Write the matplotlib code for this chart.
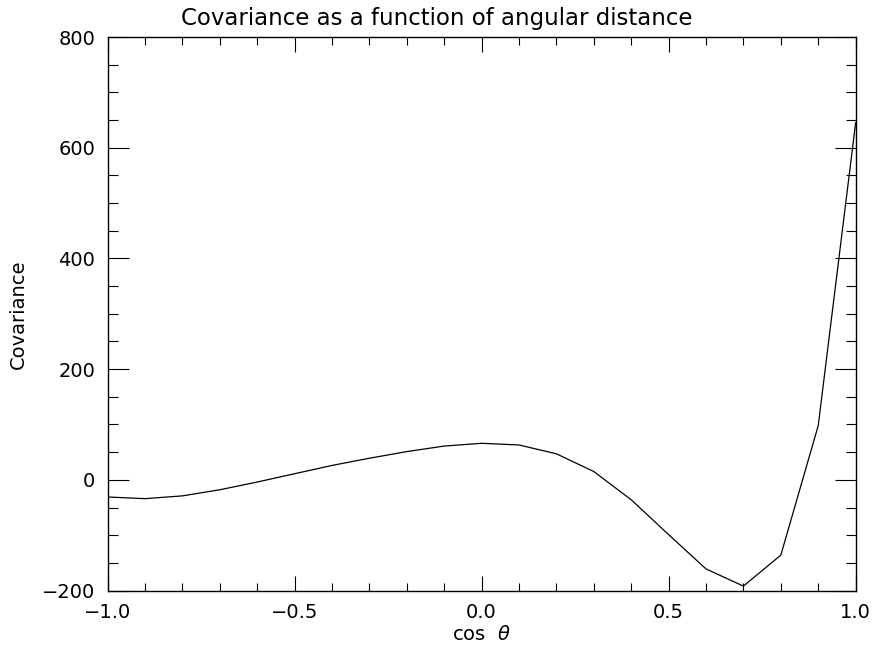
import matplotlib
matplotlib.use("Agg")
import matplotlib.pyplot as plt
from matplotlib.ticker import MultipleLocator, FuncFormatter

# covariance vs cos(theta)
cos_theta = [-1.0, -0.9, -0.8, -0.7, -0.6, -0.5, -0.4, -0.3, -0.2, -0.1, 0.0,
             0.1, 0.2, 0.3, 0.4, 0.5, 0.6, 0.7, 0.8, 0.9, 1.0]
covariance = [-31, -34, -29, -18, -4, 11, 26, 39, 51, 61, 66,
              63, 47, 15, -36, -99, -161, -192, -136, 98, 645]

plt.rcParams["font.family"] = "DejaVu Sans"
plt.rcParams["mathtext.fontset"] = "dejavusans"

fig = plt.figure(figsize=(8.74, 6.5), dpi=100)
ax = fig.add_axes([0.123, 0.0915, 0.856, 0.8515])

ax.plot(cos_theta, covariance, color="black", linewidth=0.9)

ax.set_xlim(-1.0, 1.0)
ax.set_ylim(-200, 800)
ax.xaxis.set_major_locator(MultipleLocator(0.5))
ax.xaxis.set_minor_locator(MultipleLocator(0.1))
ax.yaxis.set_major_locator(MultipleLocator(200))
ax.yaxis.set_minor_locator(MultipleLocator(50))
ax.xaxis.set_major_formatter(FuncFormatter(lambda v, p: f"{v:.1f}".replace("-", "\u2212")))
ax.yaxis.set_major_formatter(FuncFormatter(lambda v, p: f"{v:.0f}".replace("-", "\u2212")))

ax.tick_params(which="both", direction="in", top=True, right=True,
               labelsize=14, width=0.8, color="black")
ax.tick_params(axis="x", which="major", length=11, pad=9)
ax.tick_params(axis="x", which="minor", length=5.5)
ax.tick_params(axis="y", which="major", length=15, pad=9)
ax.tick_params(axis="y", which="minor", length=7.5)
for s in ax.spines.values():
    s.set_linewidth(1.0)

# title is centred on the figure, not on the axes
ax.set_title("Covariance as a function of angular distance", fontsize=16.5, pad=9,
             x=(0.5 - 0.123) / 0.856)
ax.set_xlabel(r"cos  $\theta$", fontsize=14, labelpad=2)
ax.set_ylabel("Covariance", fontsize=14, labelpad=10)

fig.savefig("out.png", dpi=100)
